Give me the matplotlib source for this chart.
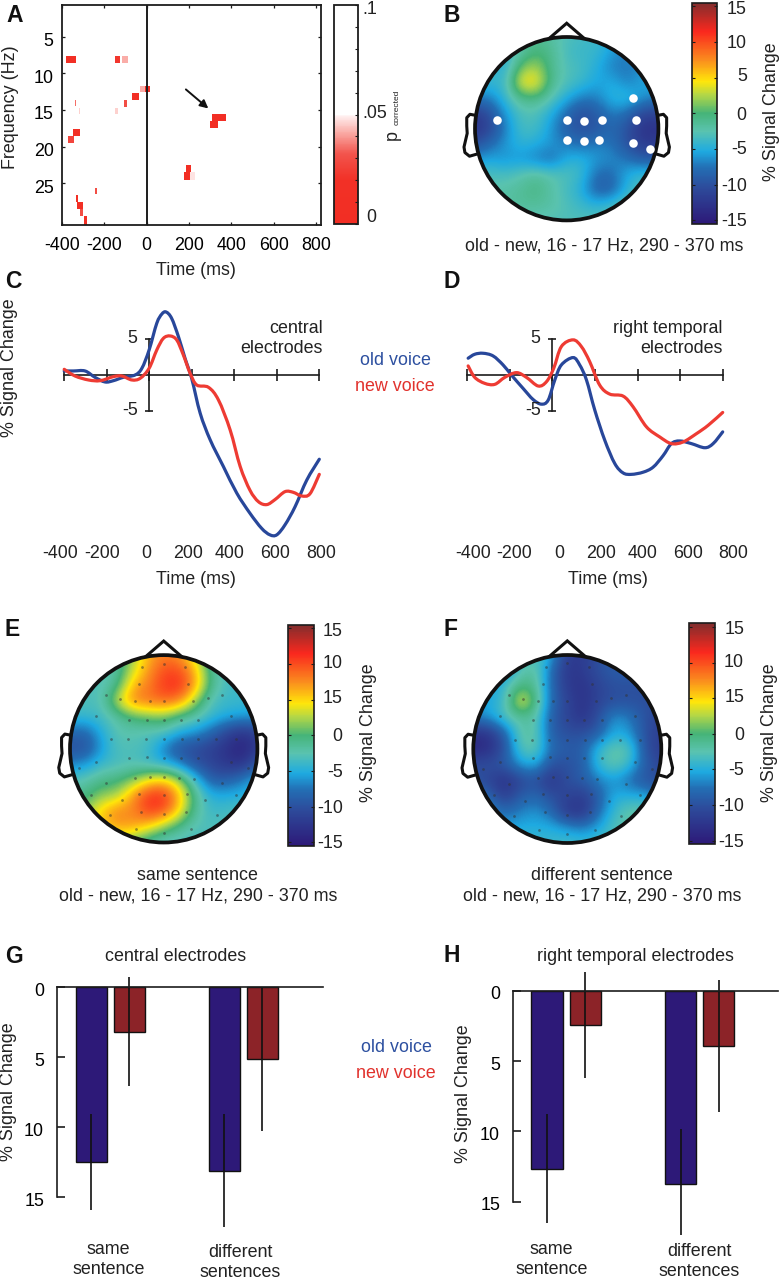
import numpy as np
import matplotlib
matplotlib.use("Agg")
import matplotlib.pyplot as plt
from matplotlib.cm import ScalarMappable
from matplotlib.colors import LinearSegmentedColormap, Normalize
from matplotlib.patches import Circle, PathPatch
from matplotlib.path import Path
from matplotlib.transforms import ScaledTranslation

plt.rcParams['font.family'] = ['Liberation Sans', 'DejaVu Sans']
plt.rcParams['font.size'] = 12.9
plt.rcParams['text.color'] = '#222222'

# panel A, significant cells
cell_t0 = [-383, -148, -115, -31, -8, -70, -340, -322, -152, -105, -347, -372, 308, 297, 184, 175, 206, -335, -328, -316, -294, -242]
cell_t1 = [-336, -125, -90, -8, 16, -36, -332, -316, -134, -91, -313, -344, 375, 336, 207, 206, 228, -326, -303, -303, -284, -234]
cell_f0 = [7.7, 7.7, 7.7, 11.7, 11.7, 12.7, 13.6, 14.7, 14.7, 13.6, 17.6, 18.5, 15.6, 16.5, 22.5, 23.5, 23.5, 26.6, 27.5, 28.5, 29.5, 25.6]
cell_f1 = [8.6, 8.6, 8.6, 12.6, 12.6, 13.6, 14.5, 15.5, 15.5, 14.6, 18.5, 19.5, 16.5, 17.5, 23.5, 24.5, 24.5, 27.5, 28.5, 29.5, 30.7, 26.5]
cell_p = [.012, .022, .042, .042, .008, .008, .035, .046, .046, .03, .015, .027, .003, .003, .003, .003, .048, .01, .01, .03, .02, .03]

# panels B, E, F: scalp values on a 13 x 13 grid, top row first
map_b = [
    [-3, -3, -4, -3, -1, -2, -3, -3.5, -4, -5, -6, -6, -6],
    [-4, -4, -5, -2, 0, -1, -3.5, -4, -4, -6, -7, -7, -7],
    [-4, -4, -5, 1, 2.5, -1, -3, -3.5, -5, -7, -7.5, -6, -6],
    [-4, -4, -4, 4.5, 5, -1, -3, -4, -5.5, -5, -7, -5.5, -5],
    [-7, -7, -4, -1, -0.5, -2.5, -5, -7, -7, -4.5, -4, -6, -7],
    [-12, -10, -6, -3, -3, -5, -8, -10.5, -9, -7, -8, -11, -11],
    [-13, -11, -7, -3.5, -3.5, -6, -9, -10, -9.5, -8, -10, -13, -13],
    [-10, -8, -6, -4.5, -5, -6, -7, -8, -7, -7.5, -10, -12, -12],
    [-6, -5.5, -6, -6, -7, -8, -5, -4.5, -6, -6.5, -7.5, -9, -9],
    [-3, -3, -3.5, -2.5, -1.5, -2.5, -3, -4, -8, -8, -5, -4, -4],
    [-3, -2.5, -2, -1.5, -0.5, -2, -3.5, -5, -9, -8.5, -4.5, -3, -3],
    [-2, -2, -2, -1.5, -1.5, -2, -3, -4, -4.5, -3.5, -2, -2, -2],
    [-3, -3, -3, -3, -3, -3, -3, -3, -3, -3, -3, -3, -3],
]
map_e = [
    [-3, -3, -3, -2, 2, 6, 8, 7, 3, -3, -3, -3, -3],
    [-3, -3, -3, -2, 3, 7, 10, 10, 6, -1, -3.5, -3.5, -3.5],
    [-3, -3, -3, -1, 6, 8, 11, 11.5, 7, -1, -3.5, -4, -4],
    [-3, -3, -3, 3, 8, 8.5, 9, 8, 2, -3, -4, -4, -4],
    [-4, -4, -3.5, -2, 0, 1, 1.5, -1, -2, -4, -5, -5.5, -6],
    [-8, -8.5, -5, -2.5, -2.5, -3, -3, -5, -6, -8, -11, -13, -11],
    [-10, -10, -6, -3, -3, -3.5, -7, -10, -10.5, -11.5, -13, -14.5, -12],
    [-7, -6, -4, -3.5, -3, -4, -5, -7, -10, -11, -12.5, -13, -9],
    [-3, -2.5, -1, -0.5, 1, 4, 5, 2, -4, -9, -9, -7, -5],
    [-2, -0.5, 1.5, 2, 7, 11, 11.5, 6, -1, -5, -5, -5, -4],
    [1, 1.5, 5.5, 8, 7.5, 11, 10, 5, -1.5, -4, -3.5, -3, -3],
    [4, 4, 5, 7, 7, 5, 2, -1, -3, -3, -3, -3, -3],
    [-1, -1, 1, 2, 0, -2, -3.5, -3.5, -3.5, -3, -3, -3, -3],
]
map_f = [
    [-6, -6, -6, -4, -3, -5, -12, -12, -10, -9, -9, -9, -9],
    [-6, -6, -7, -3, -1.5, -8, -12.5, -12, -10, -9, -9, -9, -9],
    [-6, -6, -4, 0, -1, -8, -12, -13, -11, -10, -10, -10, -10],
    [-6, -5, -4, 5, 0, -8, -11, -13, -11, -10, -10, -10, -10],
    [-7, -6, -3, -2, -2, -9, -11, -13, -10, -6, -7, -10, -11],
    [-13, -13, -9, -2, -2, -9, -10, -10, -9, -5, -6, -10, -12],
    [-14, -13.5, -10, -3, -2, -8, -9, -9, -4, -2, -2.5, -10, -12],
    [-10, -10, -9, -6, -5, -10, -10, -9, -4, -2, -4, -9, -11],
    [-10, -11, -13.5, -11, -10, -13, -10, -9, -7, -6, -8, -10, -10],
    [-7, -8, -12, -9, -8, -10, -11, -12, -9, -5, -5, -5, -8],
    [-6, -6, -8, -7, -6, -8, -12.5, -13, -8, -4, -2, -2, -4],
    [-5, -5, -6, -5, -5, -5, -6, -7, -5.5, -3, -2, -3, -4],
    [-4, -4, -4, -4, -4, -4, -3.5, -4, -3.5, -3, -3, -3, -3],
]

# electrode sites, head radius = 1
eeg_x = [0, -.23, .23, -.26, .26, -.62, -.47, -.31, -.15, 0, .31, .47, .62, -.72, -.37, -.18, 0, .18, .37, .72,
         -.56, -.38, -.19, 0, .19, .37, .56, .77, -.72, -.37, -.18, 0, .18, .37, .72, -.9, .9,
         -.62, -.31, -.15, 0, .16, .32, .62, -.78, -.45, -.26, 0, .25, .44, .77, -.57, -.24, 0, .24, .57, -.3, 0, .29]
eeg_y = [.91, .87, .87, .69, .69, .57, .53, .51, .51, .51, .51, .54, .57, .35, .31, .31, .31, .31, .31, .35,
         .1, .1, .1, .1, .1, .1, .1, .1, -.14, -.1, -.09, -.1, -.1, -.1, -.14, -.21, -.21,
         -.37, -.31, -.3, -.3, -.31, -.32, -.37, -.49, -.55, -.48, -.49, -.48, -.55, -.49, -.71, -.67, -.7, -.67, -.71, -.86, -.9, -.86]
roi_x = [-.76, 0, .19, .39, 0, .19, .35, .72, .76, .72, .91]
roi_y = [.1, .09, .08, .09, -.12, -.13, -.12, .34, .09, -.16, -.22]

# panels C, D: time courses
c_old_t = [-399, -355, -301, -254, -207, -168, -121, -66, -34, 0, 36, 60, 80, 106, 138, 169, 200, 240, 287, 349, 412, 474, 529, 568, 600, 639, 686, 741, 800]
c_old_v = [.56, .56, .56, -.33, -.97, -.79, -.32, 0, .93, 3.47, 7.18, 8.47, 8.75, 7.87, 5.32, 2.31, -.46, -5.3, -9, -12.7, -16.4, -19.2, -21.3, -22.2, -22.2, -20.8, -18.3, -14.6, -11.7]
c_new_t = [-399, -348, -285, -230, -168, -128, -81, -42, 0, 36, 67, 99, 130, 161, 193, 224, 279, 326, 381, 428, 474, 514, 553, 592, 639, 678, 717, 756, 800]
c_new_v = [.79, -.14, -.69, -.79, -.23, -.14, -.69, -.46, .93, 3.47, 5.09, 5.42, 4.86, 2.78, .23, -1.39, -1.71, -3.47, -7.64, -12.7, -16, -17.6, -18, -17.3, -16.2, -16.3, -16.8, -16.5, -13.8]
d_old_t = [-396, -365, -326, -279, -232, -193, -138, -91, -52, -20, 11, 42, 97, 128, 160, 199, 246, 293, 332, 371, 426, 473, 520, 559, 598, 653, 716, 755, 800]
d_old_v = [2.33, 2.88, 3.02, 2.65, 1.4, 0, -1.86, -3.4, -4.05, -3.49, -.7, 1.4, 2.42, 1.4, -.7, -4.88, -9.07, -12.3, -13.6, -13.8, -13.5, -12.8, -11.2, -9.53, -9.16, -9.53, -10.1, -9.53, -7.9]
d_new_t = [-396, -365, -318, -271, -224, -169, -122, -67, -28, 6, 42, 97, 136, 175, 222, 269, 332, 379, 442, 504, 559, 614, 677, 732, 800]
d_new_v = [1.26, -.33, -1.16, -1.3, -.33, .33, -.33, -1.53, -.93, .93, 3.95, 4.88, 3.95, 1.86, -1.4, -2.65, -2.93, -4.42, -7.21, -8.6, -9.53, -9.3, -8.14, -6.98, -5.2]

time_ticks = [-400, -200, 0, 200, 400, 600, 800]
time_labels = ['-400', '-200', '0', '200', '400', '600', '800']

# panels G, H: bars, group order same sentence / different sentences
g_old = [12.45, 13.1]
g_new = [3.17, 5.14]
g_old_err = [3.43, 4.05]
g_new_err = [3.88, 5.1]
h_old = [12.65, 13.74]
h_new = [2.44, 3.93]
h_old_err = [3.88, 3.9]
h_new_err = [3.78, 4.68]

bar_ticks = [0, 5, 10, 15]
map_tick_vals = [15, 10, 5, 0, -5, -10, -15]
map_labels_b = ['15', '10', '5', '0', '-5', '-10', '-15']
map_labels_ef = ['15', '10', '15', '0', '-5', '-10', '-15']  # "15" twice, as printed

W, H = 783, 1280
BLUE = '#28479a'
RED = '#ee3b33'
BAR_BLUE = '#2d1978'
BAR_RED = '#8c2328'
INK = '#1c1c1c'

fig = plt.figure(figsize=(W / 100, H / 100), dpi=100)

signal_cmap = LinearSegmentedColormap.from_list('signal', [
    (0.0, (45/255, 25/255, 120/255)), (.163, (45/255, 75/255, 155/255)), (.253, (35/255, 110/255, 180/255)),
    (.328, (30/255, 170/255, 225/255)), (.419, (90/255, 195/255, 175/255)), (.50, (70/255, 180/255, 120/255)),
    (.584, (180/255, 215/255, 70/255)), (.645, (255/255, 230/255, 10/255)), (.742, (250/255, 140/255, 30/255)),
    (.87, (250/255, 40/255, 30/255)), (1.0, (130/255, 45/255, 45/255))])
signal_norm = Normalize(-15.5, 15.5)

p_cmap = LinearSegmentedColormap.from_list('pvals', [
    (0.0, (.95, .18, .14)), (.2, (.95, .19, .15)), (.32, (.95, .33, .30)), (.42, (.98, .68, .66)),
    (.49, (1, .93, .93)), (.5, (1, 1, 1)), (1.0, (1, 1, 1))])
p_norm = Normalize(0, .1)


def px_axes(left, top, right, bottom):
    return fig.add_axes([left / W, 1 - bottom / H, (right - left) / W, (bottom - top) / H])


def say(x, y, s, ha='center', **kw):
    return fig.text(x / W, 1 - y / H, s, ha=ha, va='center', **kw)


def draw_head(grid, cx, cy, r, roi=False):
    ax = px_axes(cx - 1.3 * r, cy - 1.3 * r, cx + 1.3 * r, cy + 1.3 * r)
    ax.set_xlim(-1.3, 1.3)
    ax.set_ylim(-1.3, 1.3)
    ax.axis('off')
    im = ax.imshow(grid, cmap=signal_cmap, norm=signal_norm, extent=(-13/12, 13/12, -13/12, 13/12),
                   interpolation='bicubic', interpolation_stage='data', aspect='auto', zorder=1)
    im.set_clip_path(Circle((0, 0), 1, transform=ax.transData))
    ax.add_patch(Circle((0, 0), 1, fill=False, ec='#111111', lw=2.7, zorder=4))
    ax.plot([-.185, 0, .185], [.99, 1.15, .99], color='#111111', lw=2.2, zorder=3, solid_joinstyle='miter')
    ear_x = np.array([.99, 1.055, 1.09, 1.09, 1.085, 1.12, 1.11, 1.06, .99])
    ear_y = [.145, .157, .12, .03, -.05, -.2, -.26, -.3, -.28]
    ax.plot(ear_x, ear_y, color='#111111', lw=2.2, zorder=3, solid_joinstyle='round')
    ax.plot(-ear_x, ear_y, color='#111111', lw=2.2, zorder=3, solid_joinstyle='round')
    if roi:
        ax.scatter(roi_x, roi_y, s=38, color='white', zorder=5, linewidths=0)
    else:
        ax.scatter(eeg_x, eeg_y, s=4, color='#333333', alpha=.5, zorder=2, linewidths=0)


def draw_map_bar(left, top, right, bottom):
    cax = px_axes(left, top, right, bottom)
    cb = fig.colorbar(ScalarMappable(norm=signal_norm, cmap=signal_cmap), cax=cax)
    cb.outline.set_linewidth(1.2)
    cb.outline.set_edgecolor(INK)
    cb.set_ticks(map_tick_vals)
    cax.tick_params(direction='in', length=2.5, width=.8, left=True, right=True, labelright=False, color=INK)


def curve(ax, t, v, color, z):
    # bezier through the read points so the trace is not drawn with corners
    p = np.column_stack([t, v]).astype(float)
    verts = [p[0]]
    codes = [Path.MOVETO]
    for i in range(len(p) - 1):
        a = p[max(i - 1, 0)]
        b = p[min(i + 2, len(p) - 1)]
        verts += [p[i] + (p[i + 1] - a) / 6, p[i + 1] - (b - p[i]) / 6, p[i + 1]]
        codes += [Path.CURVE4] * 3
    ax.add_patch(PathPatch(Path(verts, codes), fill=False, ec=color, lw=2.3, zorder=z, capstyle='round', clip_on=False))


def draw_trace(left, right, old_t, old_v, new_t, new_v):
    ax = px_axes(left, 310, right, 545)
    ax.set_xlim(-400, 800)
    ax.set_ylim((375 - 545) / 7.2, (375 - 310) / 7.2)
    ax.patch.set_alpha(0)
    for side in ['top', 'right']:
        ax.spines[side].set_visible(False)
    ax.spines['bottom'].set_position(('data', 0))
    ax.spines['left'].set_position(('data', 0))
    ax.spines['left'].set_bounds(-5, 5)
    ax.spines['bottom'].set_color(INK)
    ax.spines['left'].set_color(INK)
    ax.spines['bottom'].set_linewidth(1.2)
    ax.spines['left'].set_linewidth(1.2)
    ax.set_xticks(time_ticks)
    ax.set_yticks([-5, 5])
    ax.tick_params(axis='x', direction='inout', length=8, width=1.2, labelbottom=False, color=INK)
    ax.tick_params(axis='y', direction='inout', length=6, width=1.2, labelleft=False, color=INK)
    curve(ax, old_t, old_v, BLUE, 4)
    curve(ax, new_t, new_v, RED, 5)


def draw_bars(left, right, top, bottom, zero_y, unit, xmin, xmax, old, new, old_err, new_err):
    ax = px_axes(left, top, right, bottom)
    ax.set_xlim(xmin, xmax)
    ax.set_ylim((bottom - zero_y) / unit, (top - zero_y) / unit)
    ax.patch.set_alpha(0)
    x = np.arange(2)
    err = dict(ecolor='#111111', elinewidth=1.2, capsize=0)
    ax.bar(x - .1425, old, .233, color=BAR_BLUE, edgecolor='#111111', linewidth=1, yerr=old_err, error_kw=err)
    ax.bar(x + .1425, new, .233, color=BAR_RED, edgecolor='#111111', linewidth=1, yerr=new_err, error_kw=err)
    for side in ['bottom', 'right']:
        ax.spines[side].set_visible(False)
    ax.spines['top'].set_position(('data', 0))
    ax.spines['left'].set_bounds(0, 15)
    ax.spines['top'].set_color(INK)
    ax.spines['left'].set_color(INK)
    ax.spines['top'].set_linewidth(1.2)
    ax.spines['left'].set_linewidth(1.2)
    ax.set_xticks([])
    ax.set_yticks(bar_ticks)
    ax.tick_params(axis='y', direction='in', length=6, width=1.2, pad=9.5, color=INK)
    for lab in ax.get_yticklabels():
        lab.set_transform(lab.get_transform() + ScaledTranslation(0, -1.5 / 72, fig.dpi_scale_trans))


# A
ax_a = px_axes(62, 5, 321, 225)
ax_a.set_xlim(-400, 823)
ax_a.set_ylim(30.7, .68)
ax_a.barh(cell_f0, np.subtract(cell_t1, cell_t0), left=cell_t0, height=np.subtract(cell_f1, cell_f0),
          align='edge', color=p_cmap(p_norm(cell_p)), linewidth=0)
ax_a.axvline(0, color=INK, lw=1.4)
ax_a.set_xticks(time_ticks)
ax_a.set_xticklabels(time_labels)
ax_a.set_yticks([5, 10, 15, 20, 25])
ax_a.tick_params(direction='in', length=2, width=.9, top=True, right=True, pad=6, color=INK)
ax_a.tick_params(axis='x', pad=9)
for s in ax_a.spines.values():
    s.set_linewidth(1.3)
    s.set_color(INK)
ax_a.annotate('', xy=(291, 14.8), xytext=(185, 12.2),
              arrowprops=dict(arrowstyle='-|>', color='#111111', lw=1.4, mutation_scale=12, shrinkA=0, shrinkB=0))
for lab in ax_a.get_yticklabels():
    lab.set_transform(lab.get_transform() + ScaledTranslation(0, -2 / 72, fig.dpi_scale_trans))

cax_a = px_axes(334, 5, 358, 224)
cb_a = fig.colorbar(ScalarMappable(norm=p_norm, cmap=p_cmap), cax=cax_a)
cb_a.outline.set_linewidth(1.3)
cb_a.outline.set_edgecolor(INK)
cb_a.set_ticks(np.arange(0, .101, .01))
cax_a.tick_params(direction='in', length=2, width=.8, labelright=False, color=INK)
say(362, 10, '.1', ha='left')
say(362, 113, '.05', ha='left')
say(366, 217, '0', ha='left')
say(392, 135, 'p', rotation=90)
say(397, 107, 'corrected', rotation=90, fontsize=6)
say(196, 270.7, 'Time (ms)')
say(10.7, 107, 'Frequency (Hz)', rotation=90)

# B
draw_head(map_b, 566.7, 128.7, 91.7, roi=True)
draw_map_bar(691.7, 2.7, 716.7, 224)
for y, s in zip([10, 43.3, 76.7, 115, 150, 186.7, 221.7], map_labels_b):
    say(746.7, y, s, ha='right')
say(771.7, 111.7, '% Signal Change', rotation=90)
say(604, 245.7, 'old - new, 16 - 17 Hz, 290 - 370 ms')

# C
draw_trace(64, 319.3, c_old_t, c_old_v, c_new_t, c_new_v)
for x, s in zip([60, 101.7, 146, 188.3, 230, 275.3, 320.7], time_labels):
    say(x, 553.3, s)
say(195.7, 579.3, 'Time (ms)')
say(9.3, 367.3, '% Signal Change', rotation=90)
say(137, 338.3, '5', ha='right')
say(138, 410.7, '-5', ha='right')
say(322.7, 328.3, 'central', ha='right')
say(322.7, 348.3, 'electrodes', ha='right')
say(395, 360.7, 'old voice', color='#2d50a0')
say(395, 386.7, 'new voice', color='#e1322d')

# D
draw_trace(467.3, 722.7, d_old_t, d_old_v, d_new_t, d_new_v)
for x, s in zip([472.7, 514, 559, 600.7, 642.7, 687.7, 732.7], time_labels):
    say(x, 553.3, s)
say(608.3, 579, 'Time (ms)')
say(540, 338.3, '5', ha='right')
say(541, 410.7, '-5', ha='right')
say(722.7, 328.3, 'right temporal', ha='right')
say(722.7, 348.3, 'electrodes', ha='right')

# E
draw_head(map_e, 163.7, 748.8, 93.7)
draw_map_bar(288.3, 624.7, 314, 846)
for y, s in zip([631.7, 663.3, 698.3, 736.7, 772.3, 808.3, 843.3], map_labels_ef):
    say(342.7, y, s, ha='right')
say(368.3, 732.3, '% Signal Change', rotation=90)
say(197.7, 875.7, 'same sentence')
say(197.7, 895.7, 'old - new, 16 - 17 Hz, 290 - 370 ms')

# F
draw_head(map_f, 567.3, 749, 94)
draw_map_bar(688.7, 623.3, 714.7, 844.3)
for y, s in zip([630, 662.3, 697.3, 735.7, 770.7, 806.7, 842.3], map_labels_ef):
    say(744, y, s, ha='right')
say(769.3, 732.3, '% Signal Change', rotation=90)
say(602.3, 875.7, 'different sentence')
say(602.3, 895.7, 'old - new, 16 - 17 Hz, 290 - 370 ms')

# G
draw_bars(57.3, 323.3, 960, 1235, 987.3, 14.0, -.398, 1.6, g_old, g_new, g_old_err, g_new_err)
say(175.7, 956.7, 'central electrodes')
say(396, 1047.3, 'old voice', color='#2d50a0')
say(396, 1073.3, 'new voice', color='#e1322d')
say(108.3, 1249.3, 'same')
say(108.3, 1269, 'sentence')
say(240, 1252.7, 'different')
say(240, 1272.7, 'sentences')
say(8.3, 1091.7, '% Signal Change', rotation=90)

# H
draw_bars(513.3, 778.3, 960, 1235, 990.7, 14.07, -.395, 1.59, h_old, h_new, h_old_err, h_new_err)
say(635, 956.7, 'right temporal electrodes')
say(551.7, 1250, 'same')
say(551.7, 1270, 'sentence')
say(699, 1251.7, 'different')
say(699, 1271.7, 'sentences')
say(464, 1094, '% Signal Change', rotation=90)

# panel letters
for x, y, s in [(15, 16, 'A'), (451.7, 16, 'B'), (13.3, 281, 'C'), (451.7, 281, 'D'),
                (11.7, 630, 'E'), (450.7, 629, 'F'), (14, 956.7, 'G'), (451.7, 956, 'H')]:
    say(x, y, s, fontsize=16.5, fontweight='bold', color='#111111')

fig.savefig('out.png', dpi=100)
